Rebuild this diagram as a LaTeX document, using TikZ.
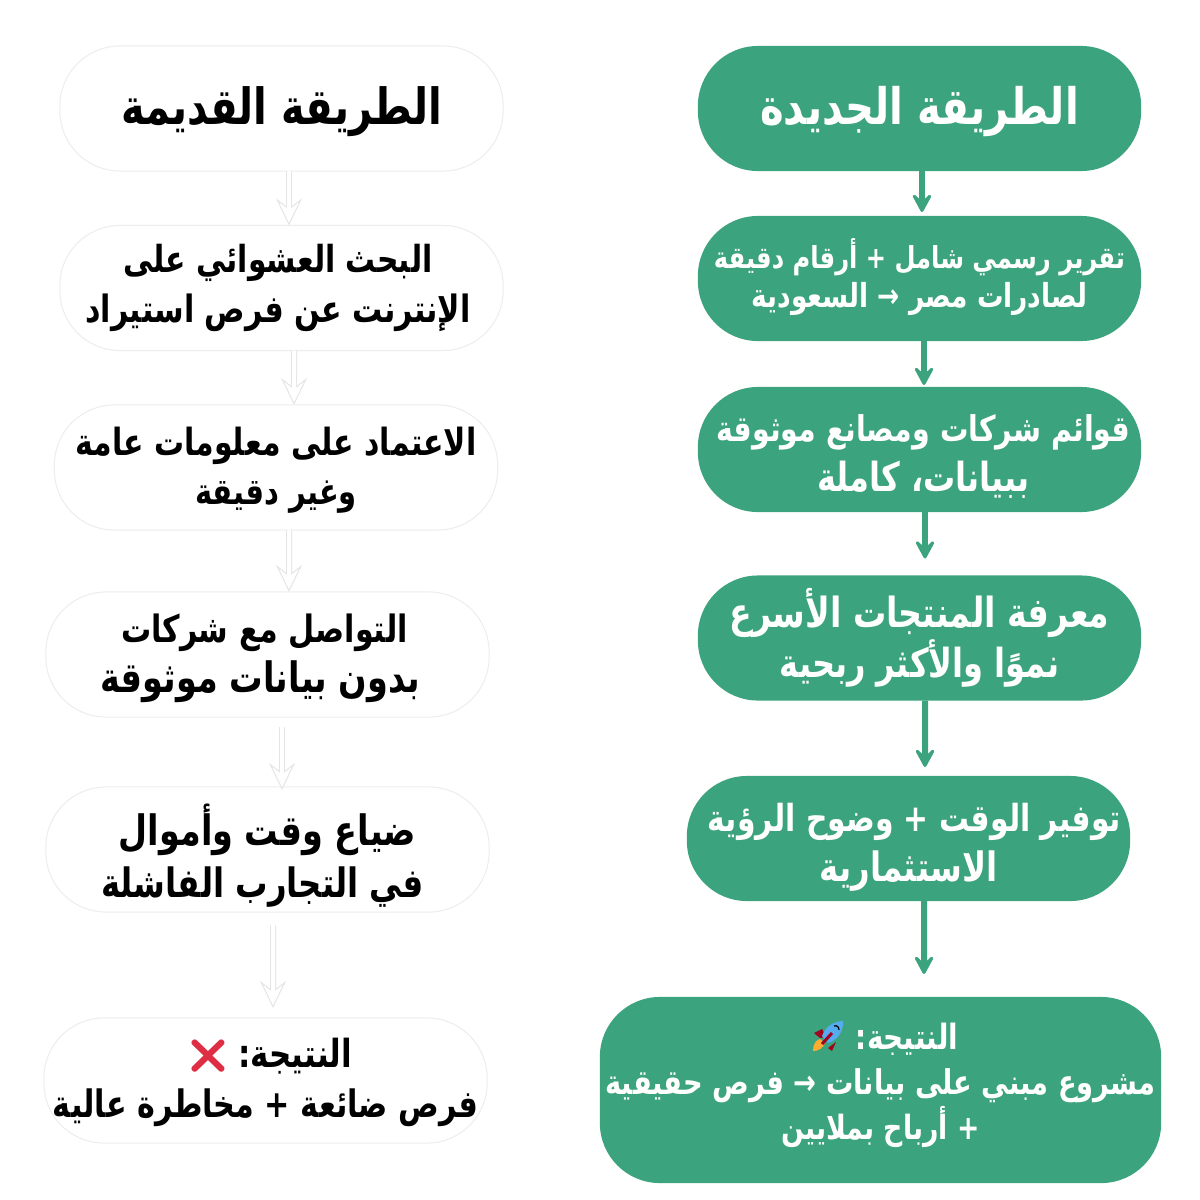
\documentclass[tikz,border=0pt]{standalone}
\usepackage{fontspec}
\usetikzlibrary{arrows.meta}
\TeXXeTstate=1
\newfontfamily\arabicfont[Script=Arabic,FakeStretch=0.8]{DejaVu Sans}
\newfontfamily\emojifont{Noto Emoji}
\definecolor{newgreen}{HTML}{3BA37D}
\definecolor{crossred}{HTML}{DD2E44}
\definecolor{rocketblue}{HTML}{55ACEE}
\definecolor{rocketred}{HTML}{A0041E}
\definecolor{rocketflame}{HTML}{FFAC33}
\newcommand{\boxfont}{\arabicfont\bfseries\fontsize{11}{14pt}\selectfont\lineskiplimit=-100pt }
\newcommand{\arsize}[1]{\fontsize{#1}{14pt}\selectfont}
\tikzset{
    flowbox/.style={rectangle, rounded corners=.6cm, minimum width=4.43cm, minimum height=1.25cm, inner sep=0pt, outer sep=0pt, align=center, font=\boxfont},
    newbox/.style={flowbox, fill=newgreen, text=white},
    oldbox/.style={flowbox, draw=black!7, line width=.01cm, fill=white, text=black},
    baseoffset/.style={text height=#1, text depth=0pt},
    newarrow/.style={draw=newgreen, line width=.06cm, -{Stealth[length=.25cm, width=.27cm, inset=.13cm, round, line width=.04cm]}},
    oldarrow/.style={draw=black!10, line width=.06cm, -{Stealth[length=.27cm, width=.26cm, inset=.1cm, line width=.01cm, fill=white]}, postaction={draw=white, line width=.04cm, -, shorten >=.15cm}},
}
\begin{document}
\begin{tikzpicture}[x=.01cm, y=-.01cm]
    \fill[white] (0,0) rectangle (1200,1200);
    \useasboundingbox (0,0) rectangle (1200,1200);

    \node[newbox, baseoffset=.31cm] (newA) at (919.5,108.5) {\arsize{14.3}\beginR الطريقة الجديدة\endR};
    \node[newbox, baseoffset=.57cm] (newB) at (919.5,278.5) {{\arsize{8.6}\beginR تقرير رسمي شامل + أرقام دقيقة\endR}\\[-3pt]{\arsize{9.4}\beginR لصادرات مصر → السعودية\endR}};
    \node[newbox, baseoffset=.83cm] (newC) at (919.5,449.5) {{\arsize{10.1}\beginR قوائم شركات ومصانع موثوقة\hspace*{.08cm}\endR}\\{\arsize{11.4}\beginR ببيانات، كاملة\hspace*{.08cm}\endR}};
    \node[newbox, baseoffset=.79cm] (newD) at (919.5,638) {{\arsize{11.8}\beginR معرفة المنتجات الأسرع\endR}\\[.2pt]{\arsize{11.4}\beginR نموًا والأكثر ربحية\endR}};
    \node[newbox, baseoffset=.85cm] (newE) at (908.5,838.5) {{\arsize{10.6}\beginR توفير الوقت + وضوح الرؤية\hspace*{.12cm}\endR}\\{\arsize{11.5}\beginR الاستثمارية\endR}};
    \node[newbox, baseoffset=.98cm, minimum width=5.61cm, minimum height=1.86cm] (newF) at (880.5,1090) {{\arsize{9.9}\beginR النتيجة: \hspace{.4cm}\endR}\\[-1.2pt]{\arsize{9.7}\beginR مشروع مبني على بيانات → فرص حقيقية\endR}\\[-1.2pt]{\arsize{9.5}\beginR + أرباح بملايين\endR}};

    \node[oldbox, baseoffset=.31cm] (oldA) at (281.5,108.5) {\arsize{14.2}\beginR الطريقة القديمة\endR};
    \node[oldbox, baseoffset=.68cm] (oldB) at (281.5,288) {{\arsize{10.6}\beginR\hspace*{.07cm}البحث العشوائي على\endR}\\{\arsize{10.7}\beginR\hspace*{.07cm}الإنترنت عن فرص استيراد\endR}};
    \node[oldbox, baseoffset=.74cm] (oldC) at (276,467.5) {{\arsize{10.65}\beginR الاعتماد على معلومات عامة\endR}\\{\arsize{10.3}\beginR وغير دقيقة\endR}};
    \node[oldbox, baseoffset=.76cm] (oldD) at (267.5,654.5) {{\arsize{10.7}\beginR\hspace*{.06cm}التواصل مع شركات\endR}\\[.2pt]{\arsize{11.9}\beginR\hspace*{.14cm}بدون بيانات موثوقة\endR}};
    \node[oldbox, baseoffset=.96cm] (oldE) at (267.5,849.5) {{\arsize{11.9}\beginR ضياع وقت وأموال\endR}\\[.8pt]{\arsize{11.5}\beginR\hspace*{.1cm}في التجارب الفاشلة\endR}};
    \node[oldbox, baseoffset=.73cm] (oldF) at (265.5,1080.5) {{\arsize{11}\beginR النتيجة: \hspace{.45cm}\endR}\\{\arsize{10.75}\beginR فرص ضائعة + مخاطرة عالية\endR}};

    \draw[newarrow] ([xshift=.025cm]newA.south) -- ([xshift=.025cm,yshift=.04cm]newB.north);
    \draw[newarrow] ([xshift=.045cm]newB.south) -- ([xshift=.045cm,yshift=.02cm]newC.north);
    \draw[newarrow] ([xshift=.055cm]newC.south) -- ([xshift=.055cm,yshift=.17cm]newD.north);
    \draw[newarrow] ([xshift=.055cm]newD.south) -- ([xshift=.165cm,yshift=.09cm]newE.north);
    \draw[newarrow] ([xshift=.155cm]newE.south) -- ([xshift=.435cm,yshift=.23cm]newF.north);

    \draw[oldarrow] ([xshift=.075cm]oldA.south) -- ([xshift=.075cm]oldB.north);
    \draw[oldarrow] ([xshift=.125cm]oldB.south) -- ([xshift=.18cm]oldC.north);
    \draw[oldarrow] ([xshift=.13cm]oldC.south) -- ([xshift=.215cm]oldD.north);
    \draw[oldarrow] ([xshift=.145cm,yshift=-.1cm]oldD.south) -- ([xshift=.145cm,yshift=-.03cm]oldE.north);
    \draw[oldarrow] ([xshift=.055cm,yshift=-.13cm]oldE.south) -- ([xshift=.075cm,yshift=.1cm]oldF.north);

    \node[text=crossred, font=\emojifont\fontsize{9.5}{10}\selectfont, inner sep=0pt] (crossmark) at (208,1056) {❌};

    \fill[rocketflame] (813,1051) .. controls (813,1044) and (816,1040) .. (820,1039) -- (825,1043) .. controls (823,1048) and (819,1051) .. (813,1051) -- cycle;
    \fill[rocketred] (814,1033) -- (822,1029) -- (826,1037) -- (820,1038) -- cycle;
    \fill[rocketred] (828,1048) -- (836,1042) -- (832,1051) -- cycle;
    \fill[rocketblue] (843,1021) .. controls (834,1021) and (825,1027) .. (822,1036) -- (828,1043) .. controls (837,1041) and (844,1031) .. (843,1021) -- cycle;
    \draw[rocketred, line width=.03cm] (822,1044) -- (832,1033);
    \draw[black, line width=.012cm] (834,1026) .. controls (837,1025) and (839,1027) .. (839,1030);
\end{tikzpicture}
\end{document}
